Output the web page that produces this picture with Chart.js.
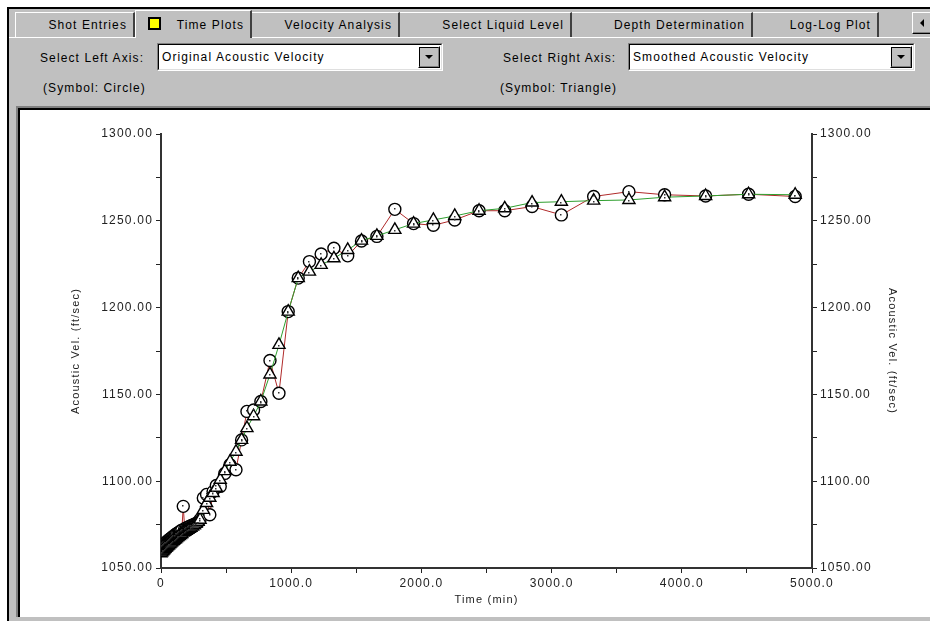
<!DOCTYPE html>
<html>
<head>
<meta charset="utf-8">
<script src="https://cdn.jsdelivr.net/npm/chart.js@4/dist/chart.umd.min.js"></script>
<style>
  body { margin: 0; width: 930px; height: 622px; overflow: hidden; background: #fff;
         font-family: 'Liberation Sans', Arial, sans-serif; font-size: 12px; letter-spacing: 1.1px; color: #000; }
  .abs { position: absolute; box-sizing: border-box; }
  .win { left: 7px; top: 7px; width: 923px; height: 614px; background: #c0c0c0;
         border-top: 2px solid #000; border-left: 2px solid #000; }
  .tab { top: 12px; height: 25px; line-height: 24px; text-align: right; padding-right: 6px;
         border-top: 1px solid #fff; border-right: 2px solid #404040; background: #c0c0c0; white-space: nowrap; }
  .tab.sel { top: 10px; height: 28px; line-height: 28px; border-left: 1px solid #fff; z-index: 2; }
  .lbl { white-space: nowrap; line-height: 14px; }
  .combo { top: 43px; height: 28px; background: #fff;
           border-top: 1px solid #808080; border-left: 1px solid #808080;
           border-bottom: 1px solid #fff; border-right: 1px solid #fff; }
  .combo .in { position: absolute; inset: 0; border-top: 1px solid #000; border-left: 1px solid #000;
               border-bottom: 1px solid #dfdfdf; border-right: 1px solid #dfdfdf;
               padding-left: 3px; line-height: 24px; white-space: nowrap; }
  .btn { background: #c0c0c0; border-top: 1px solid #fff; border-left: 1px solid #fff;
         border-bottom: 1px solid #000; border-right: 1px solid #000; }
  .btn .in { position: absolute; inset: 0; border-bottom: 1px solid #808080; border-right: 1px solid #808080; }
  .down { position: absolute; width: 0; height: 0; left: 50%; top: 50%; margin: -2px 0 0 -4px;
          border-left: 4px solid transparent; border-right: 4px solid transparent; border-top: 4px solid #000; }
</style>
</head>
<body>

<div class="abs win"></div>

<!-- tab strip -->
<div class="abs" style="left:9px;top:37px;width:921px;height:1px;background:#fff;z-index:1"></div>
<div class="abs tab" style="left:15px;width:120px;border-left:1px solid #fff">Shot Entries</div>
<div class="abs tab sel" style="left:135px;width:117px">
  <span class="abs" style="left:12px;top:6px;width:13px;height:13px;background:#ffff00;border:2px solid #000"></span>Time Plots</div>
<div class="abs tab" style="left:252px;width:148px">Velocity Analysis</div>
<div class="abs tab" style="left:400px;width:172px">Select Liquid Level</div>
<div class="abs tab" style="left:572px;width:181px">Depth Determination</div>
<div class="abs tab" style="left:753px;width:126px">Log-Log Plot</div>
<div class="abs btn" style="left:912px;top:12px;width:20px;height:22px">
  <div class="in"></div>
  <div class="abs" style="left:7px;top:6px;width:0;height:0;border-top:4px solid transparent;border-bottom:4px solid transparent;border-right:4px solid #000"></div>
</div>

<!-- axis selectors -->
<div class="abs lbl" style="left:40px;top:51px">Select Left Axis:</div>
<div class="abs combo" style="left:157px;width:286px">
  <div class="in">Original Acoustic Velocity</div>
  <div class="abs btn" style="right:2px;top:2px;width:22px;height:22px"><div class="in"></div><div class="down"></div></div>
</div>
<div class="abs lbl" style="left:43px;top:81px">(Symbol: Circle)</div>

<div class="abs lbl" style="left:503px;top:51px">Select Right Axis:</div>
<div class="abs combo" style="left:628px;width:287px">
  <div class="in">Smoothed Acoustic Velocity</div>
  <div class="abs btn" style="right:2px;top:2px;width:22px;height:22px"><div class="in"></div><div class="down"></div></div>
</div>
<div class="abs lbl" style="left:500px;top:81px">(Symbol: Triangle)</div>

<!-- chart panel -->
<div class="abs" style="left:16px;top:106px;width:914px;height:511px;border-top:2px solid #808080;border-left:2px solid #808080">
  <div class="abs" style="left:0;top:0;width:912px;height:509px;border-top:2px solid #000;border-left:2px solid #000;background:#fff"></div>
</div>
<canvas id="velChart" class="abs" width="910" height="507" style="left:20px;top:110px"></canvas>

<script>
// ─── DATA ─────────────────────────────────────────────────────────────────────

const TIME_MIN = [
  0, 6, 12, 18, 24, 30, 37, 44, 51, 58,
  65, 72, 80, 88, 96, 104, 112, 120, 130, 140,
  150, 160, 171, 182, 194, 206, 218, 230, 243, 256,
  270, 285, 300, 325, 350, 375, 400, 425, 455, 490,
  530, 576, 619, 660, 711, 767, 837, 906, 977, 1054,
  1140, 1230, 1328, 1434, 1540, 1658, 1796, 1940, 2092, 2256,
  2443, 2640, 2850, 3075, 3323, 3594, 3868, 4183, 4513, 4871
];

// Original Acoustic Velocity (circles, left axis)
const ORIGINAL_VEL = [
  1062, 1062.4, 1063, 1063.2, 1063.9, 1064.3, 1064.6, 1065.2, 1065.5, 1066.1,
  1066.4, 1066.9, 1067.3, 1067.8, 1068.4, 1068.6, 1069.3, 1069.7, 1070.2, 1070.6,
  1071.3, 1071.8, 1085.5, 1072.6, 1073.1, 1073.4, 1074, 1074.3, 1074.6, 1075.3,
  1075.7, 1076.2, 1078, 1090.3, 1092.4, 1080.7, 1094, 1097.5, 1097, 1104.5,
  1109.5, 1106.6, 1123.8, 1140.2, 1141, 1145.9, 1169.5, 1150.7, 1197.7, 1217,
  1226.5, 1230.9, 1234.2, 1229.8, 1238.4, 1241, 1256.6, 1248.4, 1247.4, 1250.5,
  1255.8, 1255.8, 1258.2, 1253.4, 1264, 1266.8, 1265, 1264.3, 1265.3, 1264
];

// Smoothed Acoustic Velocity (triangles, right axis)
const SMOOTHED_VEL = [
  1058.5, 1059, 1059.6, 1060.1, 1060.6, 1061.1, 1061.6, 1062.1, 1062.6, 1063.1,
  1063.6, 1064.1, 1064.6, 1065.2, 1065.7, 1066.2, 1066.7, 1067.2, 1067.8, 1068.4,
  1069, 1069.6, 1070.4, 1070.9, 1071.4, 1072, 1072.6, 1073.2, 1073.9, 1074.6,
  1075.6, 1076.6, 1077.8, 1083.5, 1087.4, 1090.5, 1093.2, 1096.2, 1100.8, 1105.8,
  1111.2, 1117, 1123.8, 1130.6, 1137.4, 1145.9, 1161.5, 1178.5, 1197.7, 1217,
  1220.7, 1224.6, 1228.4, 1233.2, 1238.6, 1241.3, 1244.8, 1248.4, 1250.5, 1252.8,
  1255.8, 1257.2, 1260.5, 1261, 1261.6, 1262, 1263.6, 1264.3, 1265.3, 1265
];

const X_TICKS  = [0, 500, 1000, 1500, 2000, 2500, 3000, 3500, 4000, 4500, 5000];
const X_LABELS = ['0', '', '1000.0', '', '2000.0', '', '3000.0', '', '4000.0', '', '5000.0'];
const Y_TICKS  = [1050, 1075, 1100, 1125, 1150, 1175, 1200, 1225, 1250, 1275, 1300];
const Y_LABELS = ['1050.00', '', '1100.00', '', '1150.00', '', '1200.00', '', '1250.00', '', '1300.00'];

// ─── CHART ────────────────────────────────────────────────────────────────────

const TEXT_SPACING = '1.2px';
const FONT = "'Liberation Sans', Arial, sans-serif";
const INK = '#222';

// canvas state is reset on resize, so put the letter spacing back before layout and draw
const spacingPlugin = {
  id: 'spacing',
  beforeUpdate(chart) { chart.ctx.letterSpacing = TEXT_SPACING; },
  beforeDraw(chart) { chart.ctx.letterSpacing = TEXT_SPACING; }
};

// little centre dot inside every symbol, like the original plot
const centreDots = {
  id: 'centreDots',
  afterDatasetsDraw(chart) {
    const { ctx, chartArea } = chart;
    ctx.save();
    ctx.beginPath();
    ctx.rect(chartArea.left, chartArea.top, chartArea.right - chartArea.left, chartArea.bottom - chartArea.top);
    ctx.clip();
    ctx.fillStyle = '#333';
    chart.data.datasets.forEach((ds, i) => {
      const lift = ds.pointStyle === 'triangle' ? 1 : 0;
      chart.getDatasetMeta(i).data.forEach(pt => {
        ctx.fillRect(Math.round(pt.x) - 1, Math.round(pt.y) - 1 + lift, 1.5, 1.5);
      });
    });
    ctx.restore();
  }
};

function points(vals) {
  return TIME_MIN.map((t, i) => ({ x: t, y: vals[i] }));
}

function valueAxis(position, labels, ticks, fit) {
  return {
    type: 'linear',
    position,
    min: ticks[0],
    max: ticks[ticks.length - 1],
    afterBuildTicks: s => { s.ticks = ticks.map(v => ({ value: v })); },
    afterFit: fit,
    ticks: {
      autoSkip: false,
      maxRotation: 0,
      padding: 3,
      color: INK,
      font: { family: FONT, size: 12 },
      callback: (v, i) => labels[i]
    },
    grid: { drawOnChartArea: false, drawTicks: true, tickLength: 5, tickWidth: 1, tickColor: '#222' },
    border: { display: true, color: '#333', width: 2 }
  };
}

const xAxis = valueAxis('bottom', X_LABELS, X_TICKS, s => { s.height = 49; });
xAxis.title = { display: true, text: 'Time (min)', color: INK, font: { family: FONT, size: 11 }, padding: { top: 2, bottom: 10 } };

const yLeft = valueAxis('left', Y_LABELS, Y_TICKS, s => { s.width = 96; });
yLeft.title = { display: true, text: 'Acoustic Vel. (ft/sec)', color: INK, font: { family: FONT, size: 11 }, padding: 4 };

const yRight = valueAxis('right', Y_LABELS, Y_TICKS, s => { s.width = 91; });
yRight.title = { display: true, text: 'Acoustic Vel. (ft/sec)', color: INK, font: { family: FONT, size: 11 }, padding: 4 };

new Chart(document.getElementById('velChart'), {
  type: 'scatter',
  data: {
    datasets: [
      {
        label: 'Smoothed Acoustic Velocity',
        data: points(SMOOTHED_VEL),
        yAxisID: 'yR',
        showLine: true,
        borderColor: '#2f9f2f',
        borderWidth: 1,
        pointStyle: 'triangle',
        pointRadius: 7,
        pointBorderColor: '#000',
        pointBackgroundColor: '#fff',
        pointBorderWidth: 1.4
      },
      {
        label: 'Original Acoustic Velocity',
        data: points(ORIGINAL_VEL),
        yAxisID: 'y',
        showLine: true,
        borderColor: '#b02a2a',
        borderWidth: 1,
        pointStyle: 'circle',
        pointRadius: 6,
        pointBorderColor: '#000',
        pointBackgroundColor: '#fff',
        pointBorderWidth: 1.4
      }
    ]
  },
  options: {
    responsive: false,
    animation: false,
    events: [],
    layout: { padding: { top: 24, left: 45, right: 27, bottom: 0 } },
    plugins: { legend: { display: false }, tooltip: { enabled: false } },
    scales: { x: xAxis, y: yLeft, yR: yRight }
  },
  plugins: [spacingPlugin, centreDots]
});
</script>
</body>
</html>
